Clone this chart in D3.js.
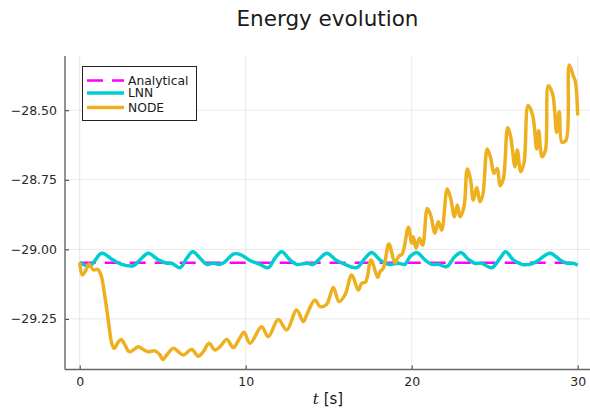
<!DOCTYPE html>
<html>
<head>
<meta charset="utf-8">
<script src="https://cdn.jsdelivr.net/npm/d3@7"></script>
<style>
  body { margin: 0; background: #fff; }
  svg { font-family: "DejaVu Sans", sans-serif; }
</style>
</head>
<body>
<svg width="590" height="409"></svg>
<script>
// values
const analyticalT = [0, 30];
const analyticalE = [-29.048, -29.048];

const lnnT = [0, 0.62, 1.32, 2.0, 2.53, 3.23, 3.73, 4.13, 4.74, 5.24, 5.54, 6.04, 6.45, 6.81, 7.25, 7.65,
  8.05, 8.45, 8.75, 9.25, 9.66, 10.26, 10.86, 11.36, 11.76, 12.17, 12.67, 13.07, 13.67, 14.07, 14.48,
  14.88, 15.48, 15.98, 16.69, 17.19, 17.59, 18.09, 18.59, 19.19, 19.6, 19.9, 20.3, 20.8, 21.2, 21.6,
  22.1, 22.6, 22.97, 23.4, 23.8, 24.2, 24.82, 25.32, 25.66, 26.12, 26.63, 27.13, 27.5, 28.33, 28.93,
  29.34, 29.74, 30];
const lnnE = [-29.048, -29.059, -29.014, -29.038, -29.054, -29.059, -29.032, -29.014, -29.038, -29.050,
  -29.050, -29.066, -29.032, -29.009, -29.032, -29.054, -29.050, -29.054, -29.045, -29.017, -29.018,
  -29.040, -29.054, -29.066, -29.032, -29.009, -29.038, -29.054, -29.050, -29.054, -29.032, -29.014,
  -29.040, -29.054, -29.066, -29.032, -29.011, -29.038, -29.054, -29.050, -29.054, -29.026, -29.011,
  -29.038, -29.054, -29.054, -29.062, -29.026, -29.011, -29.035, -29.050, -29.050, -29.066, -29.032,
  -29.009, -29.038, -29.054, -29.054, -29.045, -29.014, -29.038, -29.050, -29.050, -29.057];

const nodeT = [0, 0.16, 0.32, 0.56, 0.82, 1.08, 1.28, 1.52, 1.72, 1.93, 2.08, 2.29, 2.49, 2.73, 2.97,
  3.23, 3.53, 3.83, 4.13, 4.54, 4.84, 5.0, 5.24, 5.64, 5.94, 6.24, 6.75, 7.14, 7.45, 7.79, 8.15, 8.45,
  8.86, 9.25, 9.66, 9.9, 10.26, 10.96, 11.36, 11.96, 12.47, 13.07, 13.47, 13.67, 14.17, 14.48, 14.88,
  15.28, 15.62, 15.98, 16.39, 16.78, 16.99, 17.23, 17.55, 17.95, 18.09, 18.29, 18.63, 18.99, 19.23,
  19.43, 19.8, 20.0, 20.1, 20.26, 20.46, 20.66, 20.94, 21.14, 21.4, 21.6, 21.81, 22.14, 22.35, 22.57,
  22.75, 22.91, 23.15, 23.35, 23.55, 23.71, 23.92, 24.11, 24.28, 24.55, 24.76, 24.96, 25.16, 25.32,
  25.52, 25.78, 25.96, 26.22, 26.36, 26.57, 26.77, 27.01, 27.29, 27.53, 27.65, 27.85, 28.05, 28.23,
  28.49, 28.73, 28.89, 29.05, 29.3, 29.49, 29.73, 29.86, 30];
const nodeE = [-29.048, -29.092, -29.081, -29.053, -29.074, -29.072, -29.092, -29.171, -29.254, -29.338,
  -29.356, -29.336, -29.324, -29.344, -29.368, -29.362, -29.350, -29.360, -29.368, -29.365, -29.380,
  -29.396, -29.380, -29.356, -29.368, -29.380, -29.360, -29.384, -29.368, -29.338, -29.362, -29.350,
  -29.324, -29.353, -29.317, -29.298, -29.338, -29.278, -29.314, -29.252, -29.290, -29.218, -29.260,
  -29.236, -29.182, -29.206, -29.197, -29.137, -29.188, -29.164, -29.092, -29.146, -29.122, -29.117,
  -29.038, -29.101, -29.081, -29.068, -28.981, -29.048, -29.024, -29.017, -28.921, -28.978, -28.955,
  -28.996, -28.960, -28.985, -28.853, -28.877, -28.942, -28.901, -28.931, -28.783, -28.817, -28.883,
  -28.841, -28.883, -28.847, -28.711, -28.751, -28.823, -28.778, -28.829, -28.805, -28.639, -28.673,
  -28.727, -28.709, -28.771, -28.747, -28.563, -28.595, -28.703, -28.643, -28.721, -28.687, -28.483,
  -28.519, -28.639, -28.574, -28.667, -28.646, -28.412, -28.442, -28.579, -28.505, -28.615, -28.607,
  -28.337, -28.376, -28.397, -28.519];

const xTicks = [0, 10, 20, 30];
const yTicks = [-29.25, -29.00, -28.75, -28.50];

const series = [
  { name: 'Analytical', t: analyticalT, e: analyticalE, color: '#ff00ff', width: 2.5, dash: '16,9' },
  { name: 'LNN', t: lnnT, e: lnnE, color: '#00cdd0', width: 3.5, dash: null },
  { name: 'NODE', t: nodeT, e: nodeE, color: '#efb020', width: 3.5, dash: null }
];

const svg = d3.select('svg');
const [plotLeft, plotTop, plotBottom] = [65, 56, 369.5];

const x = d3.scaleLinear().domain([-0.9, 30.9]).range([64.76, 592.64]);
const y = d3.scaleLinear().domain([-29.432, -28.305]).range([plotBottom, plotTop]);

// grid
const grid = svg.append('g').attr('stroke', '#000').attr('stroke-opacity', 0.09).attr('stroke-width', 1);
grid.selectAll('.gx').data(xTicks).enter().append('line')
  .attr('x1', d => x(d)).attr('x2', d => x(d))
  .attr('y1', plotTop).attr('y2', plotBottom);
grid.selectAll('.gy').data(yTicks).enter().append('line')
  .attr('x1', plotLeft).attr('x2', 590)
  .attr('y1', d => y(d)).attr('y2', d => y(d));

// axes, ticks pointing inward
const fmtY = d => d3.format('.2f')(d).replace('-', '\u2212');

const xAxis = d3.axisBottom(x).tickValues(xTicks).tickSizeInner(-4).tickSizeOuter(0).tickPadding(8);
const yAxis = d3.axisLeft(y).tickValues(yTicks).tickSizeInner(-4).tickSizeOuter(0).tickPadding(8).tickFormat(fmtY);

const gx = svg.append('g').attr('transform', `translate(0, ${plotBottom})`).call(xAxis);
const gy = svg.append('g').attr('transform', `translate(${plotLeft}, 0)`).call(yAxis);

[gx, gy].forEach(g => {
  g.select('.domain').remove();
  g.selectAll('.tick line').attr('stroke', '#333').attr('stroke-width', 1);
  g.selectAll('.tick text').attr('fill', '#2a2a2a').attr('font-size', 12.5)
    .attr('font-family', '"DejaVu Sans", sans-serif');
});

svg.append('line').attr('x1', plotLeft).attr('x2', 590).attr('y1', plotBottom).attr('y2', plotBottom)
  .attr('stroke', '#666').attr('stroke-width', 1.4);
svg.append('line').attr('x1', plotLeft).attr('x2', plotLeft).attr('y1', plotTop).attr('y2', plotBottom)
  .attr('stroke', '#666').attr('stroke-width', 1.4);

// lines
const line = d3.line()
  .x(d => x(d[0]))
  .y(d => y(d[1]))
  .curve(d3.curveCatmullRom.alpha(0.5));

series.forEach(s => {
  svg.append('path')
    .datum(s.t.map((t, i) => [t, s.e[i]]))
    .attr('d', line)
    .attr('fill', 'none')
    .attr('stroke', s.color)
    .attr('stroke-width', s.width)
    .attr('stroke-linejoin', 'round')
    .attr('stroke-dasharray', s.dash);
});

// title + x label
svg.append('text').attr('x', 327.5).attr('y', 26).attr('text-anchor', 'middle')
  .attr('font-size', 21.5).attr('fill', '#1a1a1a').text('Energy evolution');

const xl = svg.append('text').attr('x', 328).attr('y', 404).attr('text-anchor', 'middle')
  .attr('font-size', 15).attr('fill', '#1a1a1a');
xl.append('tspan').attr('font-family', '"DejaVu Serif", serif').attr('font-style', 'italic').text('t');
xl.append('tspan').text(' [s]');

// legend
const legend = svg.append('g');
legend.append('rect').attr('x', 82.5).attr('y', 66.5).attr('width', 114).attr('height', 54)
  .attr('fill', '#fff').attr('stroke', '#222').attr('stroke-width', 1);
const rowsY = [80.5, 93, 107.5];
series.forEach((s, i) => {
  legend.append('line').attr('x1', 87).attr('x2', 124).attr('y1', rowsY[i]).attr('y2', rowsY[i])
    .attr('stroke', s.color).attr('stroke-width', s.width).attr('stroke-dasharray', s.dash);
  legend.append('text').attr('x', 128).attr('y', rowsY[i]).attr('dy', '0.36em')
    .attr('font-size', 12.3).attr('fill', '#1a1a1a').text(s.name);
});
</script>
</body>
</html>
